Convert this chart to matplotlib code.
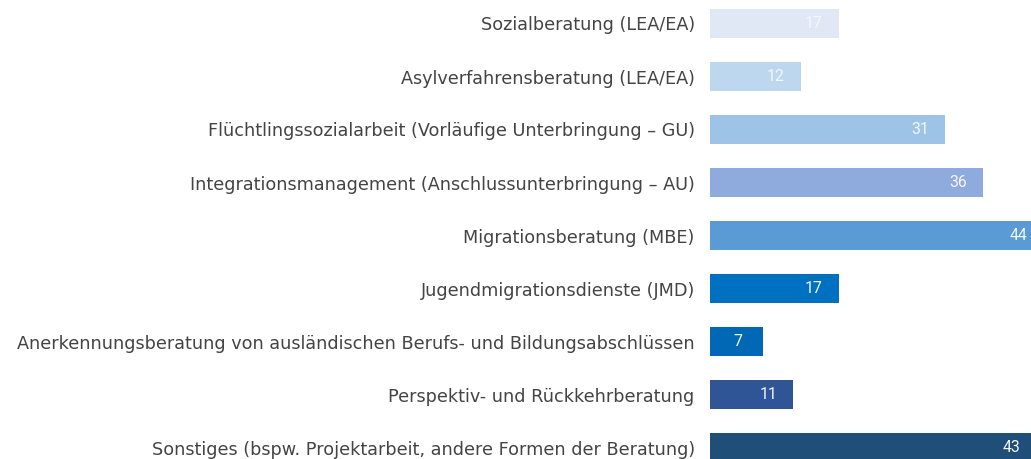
import matplotlib
matplotlib.use("Agg")
import matplotlib.pyplot as plt

categories = [
    "Sozialberatung (LEA/EA)",
    "Asylverfahrensberatung (LEA/EA)",
    "Flüchtlingssozialarbeit (Vorläufige Unterbringung – GU)",
    "Integrationsmanagement (Anschlussunterbringung – AU)",
    "Migrationsberatung (MBE)",
    "Jugendmigrationsdienste (JMD)",
    "Anerkennungsberatung von ausländischen Berufs- und Bildungsabschlüssen",
    "Perspektiv- und Rückkehrberatung",
    "Sonstiges (bspw. Projektarbeit, andere Formen der Beratung)",
]
values = [17, 12, 31, 36, 44, 17, 7, 11, 43]
colors = ["#E0E8F5", "#BDD7EE", "#9DC3E6", "#8FAADC", "#5B9BD5",
          "#0070C0", "#0068B5", "#2F5597", "#1F4E79"]

plt.rcParams['font.family'] = ['DejaVu Sans']

fig = plt.figure(figsize=(10.31, 4.59), dpi=100)
ax = fig.add_axes([710 / 1031, 0, 1 - 710 / 1031, 1])

ypos = list(range(len(categories)))
ax.barh(ypos, values, height=29 / 53, color=colors)

for y, v in zip(ypos, values):
    ax.text(v - 3.3, y, str(v), ha='center', va='center',
            color='#F4F7FB', fontsize=11.3, family=['Roboto', 'DejaVu Sans'])

ax.set_xlim(0, 321 / 7.59)
ax.set_ylim((459 - 23.5) / 53, -23.5 / 53)
ax.set_yticks(ypos)
ax.set_yticklabels(categories, fontsize=12.7, color='#444444')
ax.tick_params(axis='y', length=0, pad=11)
ax.set_xticks([])
for s in ax.spines.values():
    s.set_visible(False)

fig.savefig("out.png", dpi=100)
